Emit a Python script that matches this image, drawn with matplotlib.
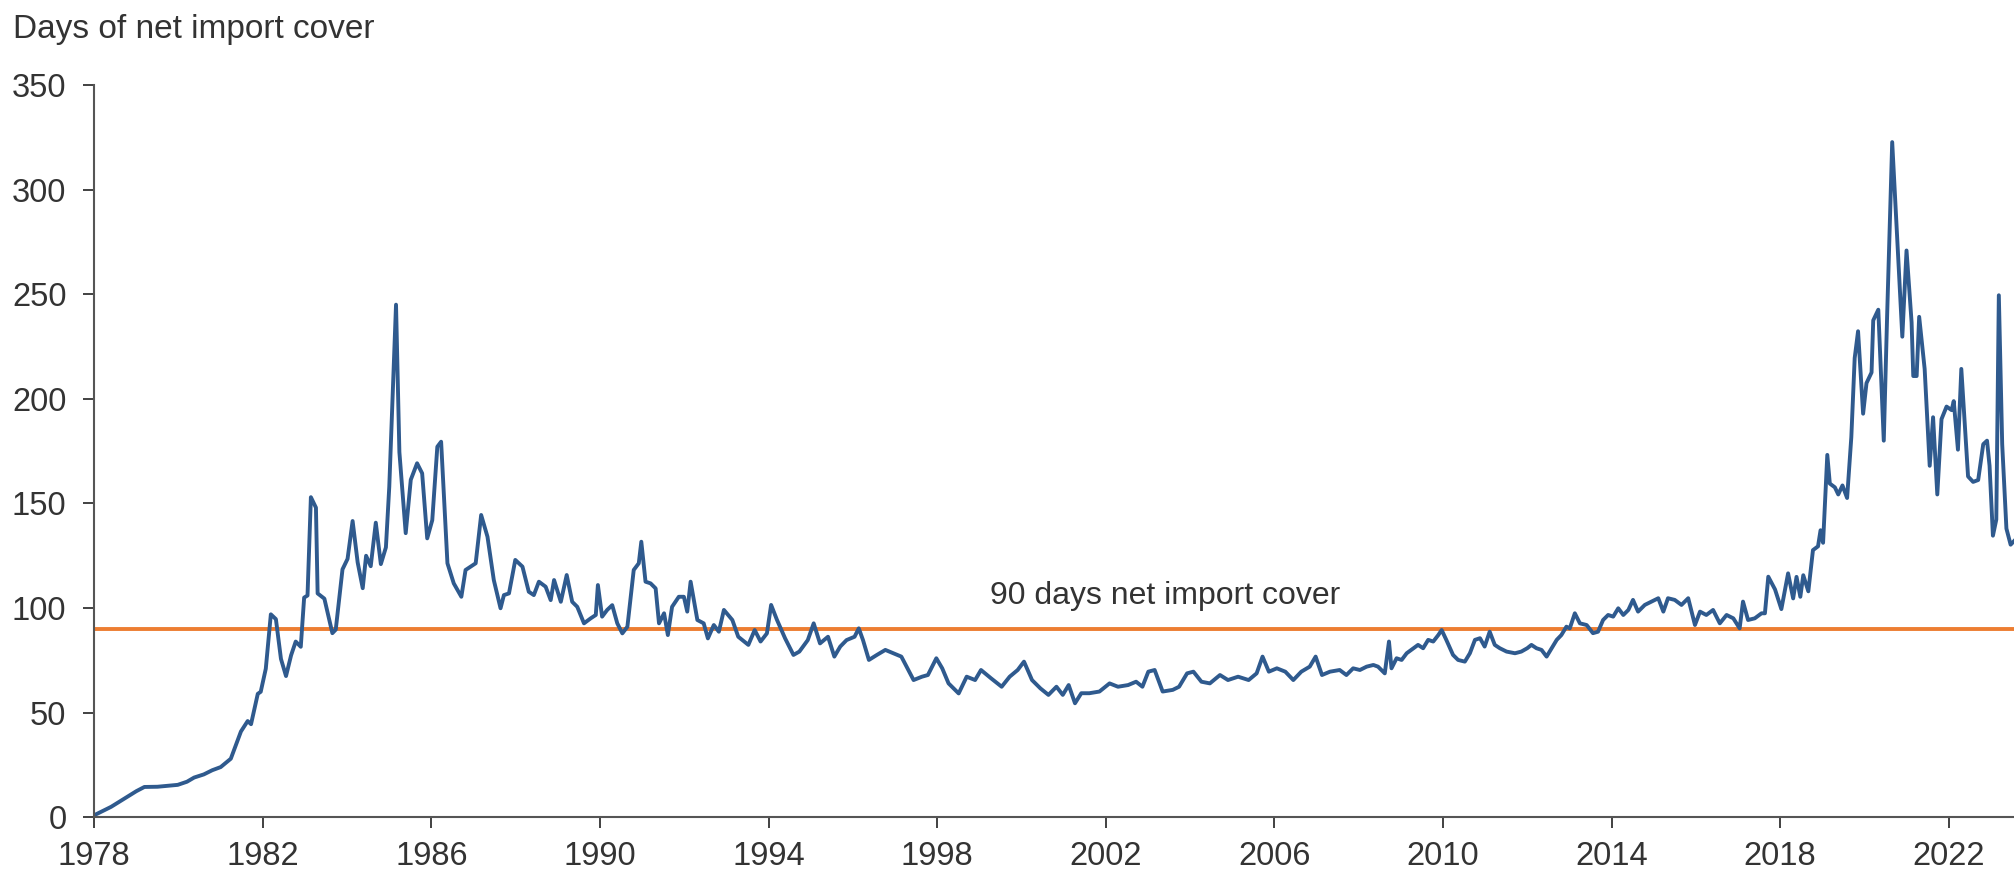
import matplotlib
matplotlib.use("Agg")
import matplotlib.pyplot as plt

# ---------------------------------------------------------------------------- #
#                                     DATA                                     #
# ---------------------------------------------------------------------------- #
# decimal year, days of net import cover
YEARS = [
    1978.0, 1978.2, 1978.4, 1978.6, 1978.8, 1979.0, 1979.19, 1979.5, 1979.98,
    1980.2, 1980.37, 1980.6, 1980.8, 1981.0, 1981.24, 1981.48, 1981.64,
    1981.72, 1981.88, 1981.95, 1982.07, 1982.19, 1982.31, 1982.43, 1982.55,
    1982.67, 1982.78, 1982.9, 1982.98, 1983.06, 1983.14, 1983.26, 1983.3,
    1983.46, 1983.65, 1983.73, 1983.89, 1984.01, 1984.13, 1984.25, 1984.37,
    1984.45, 1984.56, 1984.68, 1984.8, 1984.92, 1985.0, 1985.16, 1985.24,
    1985.39, 1985.51, 1985.66, 1985.78, 1985.9, 1986.02, 1986.14, 1986.23,
    1986.38, 1986.53, 1986.71, 1986.81, 1986.93, 1987.05, 1987.18, 1987.33,
    1987.48, 1987.64, 1987.72, 1987.84, 1987.99, 1988.16, 1988.31, 1988.43,
    1988.55, 1988.71, 1988.83, 1988.91, 1989.07, 1989.21, 1989.34, 1989.46,
    1989.62, 1989.78, 1989.9, 1989.95, 1990.05, 1990.17, 1990.29, 1990.41,
    1990.53, 1990.65, 1990.8, 1990.92, 1990.98, 1991.08, 1991.2, 1991.32,
    1991.4, 1991.52, 1991.61, 1991.71, 1991.87, 1991.99, 1992.07, 1992.15,
    1992.31, 1992.46, 1992.56, 1992.7, 1992.82, 1992.94, 1993.14, 1993.28,
    1993.52, 1993.67, 1993.81, 1993.96, 1994.06, 1994.2, 1994.39, 1994.59,
    1994.73, 1994.93, 1995.07, 1995.22, 1995.41, 1995.56, 1995.7, 1995.85,
    1996.04, 1996.14, 1996.24, 1996.38, 1996.57, 1996.77, 1996.96, 1997.15,
    1997.44, 1997.64, 1997.78, 1997.98, 1998.12, 1998.27, 1998.51, 1998.7,
    1998.9, 1999.04, 1999.28, 1999.53, 1999.72, 1999.91, 2000.06, 2000.25,
    2000.45, 2000.64, 2000.83, 2000.98, 2001.12, 2001.27, 2001.42, 2001.61,
    2001.85, 2002.09, 2002.29, 2002.53, 2002.72, 2002.87, 2003.01, 2003.16,
    2003.35, 2003.59, 2003.74, 2003.93, 2004.08, 2004.27, 2004.47, 2004.71,
    2004.9, 2005.14, 2005.39, 2005.58, 2005.72, 2005.87, 2006.06, 2006.26,
    2006.45, 2006.64, 2006.84, 2006.98, 2007.13, 2007.32, 2007.55, 2007.71,
    2007.87, 2008.03, 2008.19, 2008.35, 2008.46, 2008.62, 2008.72, 2008.78,
    2008.9, 2009.02, 2009.14, 2009.3, 2009.41, 2009.53, 2009.65, 2009.77,
    2009.89, 2009.97, 2010.08, 2010.24, 2010.36, 2010.52, 2010.64, 2010.76,
    2010.88, 2010.99, 2011.11, 2011.23, 2011.35, 2011.51, 2011.71, 2011.86,
    2012.0, 2012.1, 2012.22, 2012.34, 2012.46, 2012.58, 2012.7, 2012.81,
    2012.93, 2013.01, 2013.13, 2013.25, 2013.41, 2013.56, 2013.68, 2013.8,
    2013.92, 2014.04, 2014.16, 2014.28, 2014.4, 2014.51, 2014.63, 2014.79,
    2014.95, 2015.11, 2015.23, 2015.34, 2015.5, 2015.66, 2015.82, 2015.98,
    2016.1, 2016.25, 2016.41, 2016.57, 2016.73, 2016.89, 2017.04, 2017.12,
    2017.24, 2017.4, 2017.56, 2017.64, 2017.72, 2017.88, 2018.03, 2018.19,
    2018.31, 2018.39, 2018.48, 2018.55, 2018.67, 2018.78, 2018.9, 2018.96,
    2019.02, 2019.12, 2019.18, 2019.3, 2019.38, 2019.48, 2019.59, 2019.69,
    2019.77, 2019.85, 2019.97, 2020.05, 2020.17, 2020.21, 2020.33, 2020.46,
    2020.54, 2020.66, 2020.9, 2021.0, 2021.12, 2021.16, 2021.24, 2021.3,
    2021.43, 2021.55, 2021.63, 2021.73, 2021.83, 2021.95, 2022.07, 2022.12,
    2022.22, 2022.3, 2022.38, 2022.46, 2022.58, 2022.7, 2022.82, 2022.91,
    2022.97, 2023.05, 2023.13, 2023.19, 2023.27, 2023.37, 2023.47, 2023.55,
]
DAYS = [
    1, 3, 5, 7.5, 10, 12.5, 14.5, 14.6, 15.5,
    17, 19, 20.5, 22.5, 24, 28, 41, 46,
    44.5, 59, 60, 71, 97, 94.7, 75.7, 67.5,
    77.4, 84, 81.5, 105, 106, 153, 148, 107,
    104.5, 88, 89.7, 118.5, 123.5, 141.6, 121.8, 109.5,
    125, 120, 140.8, 121, 129, 158, 245, 174.5,
    135.8, 161.3, 169.2, 164.4, 133.3, 142, 177.1, 179.5,
    121.4, 111.8, 105.4, 118.2, 119.8, 121.4, 144.5, 134.1,
    113.4, 99.9, 106.2, 107, 123, 119.8, 107.8, 106.2,
    112.6, 110.2, 103.8, 113.4, 103, 115.8, 103, 100.6,
    92.7, 95.1, 96.7, 111, 95.9, 99.1, 101.4, 92.7,
    87.9, 91.1, 118.2, 121.4, 131.7, 112.6, 111.8, 109.4,
    92.7, 97.5, 87.1, 100.6, 105.4, 105.4, 98.3, 112.6,
    94.3, 92.7, 85.5, 91.9, 88.7, 99.1, 94.3, 86.3,
    82.4, 89.5, 84, 87.9, 101.5, 94.3, 85.6, 77.6,
    79.2, 84.7, 92.7, 83.1, 86.3, 76.8, 81.6, 84.7,
    86.3, 90.3, 84.7, 75.2, 77.6, 80, 78.4, 76.8,
    65.6, 67.2, 68, 76, 71.2, 64, 59.2, 67.2,
    65.6, 70.4, 66.4, 62.4, 67.2, 70.4, 74.4, 65.6,
    61.6, 58.5, 62.4, 58.5, 63.2, 54.5, 59.3, 59.3,
    60.1, 64, 62.4, 63.2, 64.8, 62.4, 69.6, 70.4,
    60.1, 60.9, 62.4, 68.8, 69.6, 64.8, 64, 68,
    65.6, 67.2, 65.6, 68.8, 76.8, 69.6, 71.2, 69.6,
    65.6, 69.6, 72, 76.8, 68, 69.6, 70.4, 68,
    71.2, 70.4, 72, 72.8, 72, 68.8, 84, 71.2,
    76, 75.2, 78.4, 80.8, 82.4, 80.8, 84.8, 84,
    87.1, 89.5, 84.8, 77.6, 75.2, 74.4, 78.4, 84.8,
    85.6, 81.6, 88.7, 82.4, 80.8, 79.2, 78.4, 79.2,
    80.8, 82.4, 80.8, 80, 76.8, 80.8, 84.8, 87.1,
    91.1, 90.3, 97.5, 92.7, 91.9, 88, 88.7, 94.3,
    96.7, 95.9, 99.9, 96.7, 99.1, 103.9, 98.3, 101.5,
    103.1, 104.7, 98.3, 104.7, 103.9, 101.5, 104.7, 91.9,
    98.3, 96.7, 99.1, 92.7, 96.7, 95.1, 90.3, 103.1,
    94.3, 95.1, 97.5, 97.5, 115, 108.9, 99.5, 116.6,
    104.6, 114.9, 105.4, 115.7, 108, 127.7, 129.5, 137.2,
    131.2, 173.2, 159.5, 157.7, 154.3, 158.6, 152.6, 181.7,
    219.5, 232.3, 192.9, 207.5, 212.6, 237.5, 242.6, 180,
    240, 322.7, 229.7, 270.9, 236.6, 210.9, 210.9, 239.2,
    214.3, 168, 191.2, 154.3, 190.3, 196.3, 194.6, 198.9,
    175.7, 214.3, 188.6, 162.9, 160.3, 161.2, 178.3, 180,
    168, 134.6, 142.3, 249.5, 178.3, 138, 130.3, 132,
]
THRESHOLD = 90
X_TICKS = list(range(1978, 2023, 4))
Y_TICKS = list(range(0, 351, 50))

# ---------------------------------------------------------------------------- #
#                                     PLOT                                     #
# ---------------------------------------------------------------------------- #
plt.rcParams["font.family"] = ["Liberation Sans", "DejaVu Sans"]
TEXT_COLOR = "#333333"

fig = plt.figure(figsize=(20.14, 8.69), dpi=100)
ax = fig.add_axes([0.0468, 0.0595, 0.9532, 0.8427])

ax.axhline(THRESHOLD, color="#ED7D31", lw=2.8, zorder=1)
ax.plot(YEARS, DAYS, color="#2F5A8E", lw=2.8, zorder=2)

ax.text(2003.4, 106, "90 days net import cover", ha="center", va="center",
        fontsize=23, color=TEXT_COLOR)
fig.text(0.0065, 0.966, "Days of net import cover", ha="left", va="center",
         fontsize=24, color=TEXT_COLOR)

ax.set_xlim(1978, 2023.55)
ax.set_ylim(0, 350)
ax.set_xticks(X_TICKS)
ax.set_yticks(Y_TICKS)
ax.tick_params(axis="both", labelsize=23.5, colors=TEXT_COLOR, length=8,
               width=1.3, direction="out")
ax.tick_params(axis="x", pad=9)
ax.tick_params(axis="y", pad=12)

for side in ("top", "right"):
    ax.spines[side].set_visible(False)
for side in ("left", "bottom"):
    ax.spines[side].set_color("#555555")
    ax.spines[side].set_linewidth(1.5)

fig.savefig("out.png", dpi=100)
